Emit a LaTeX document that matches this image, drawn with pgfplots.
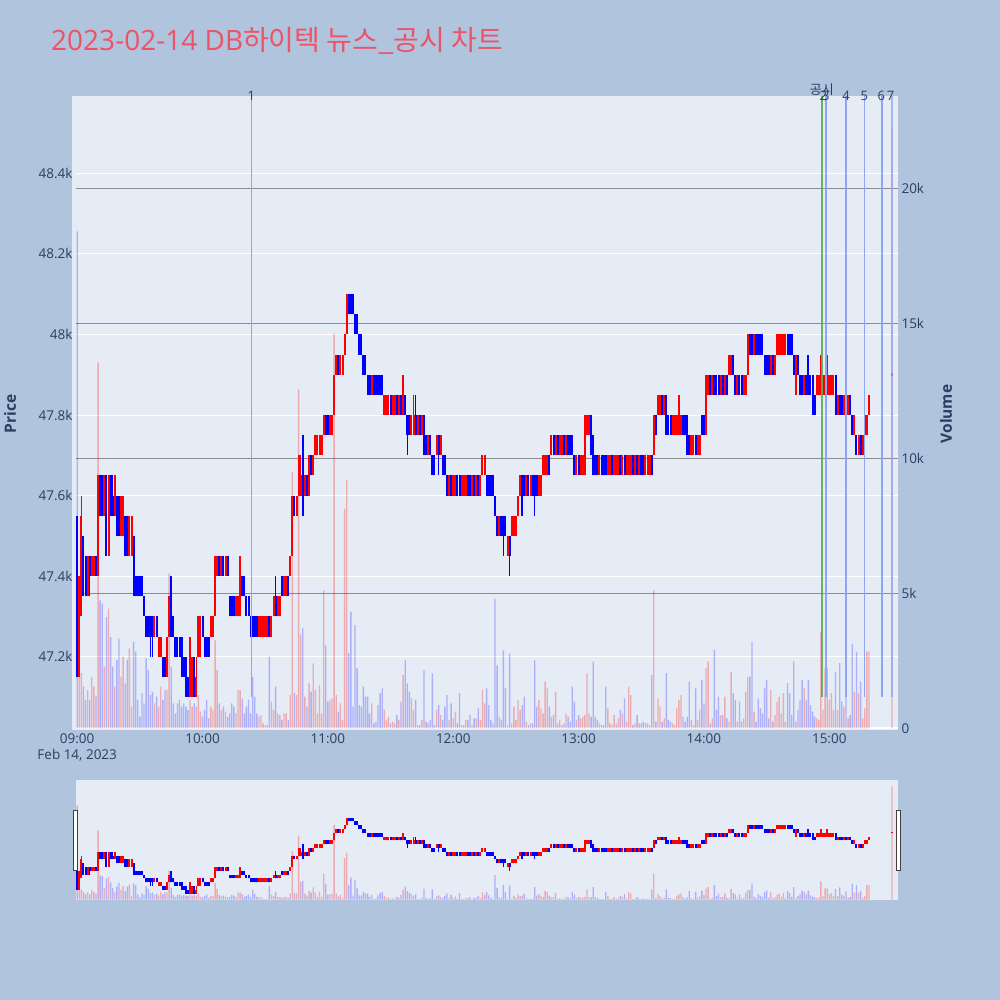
\documentclass[border=0pt]{standalone}
\usepackage{fontspec}
\setmainfont{Open Sans}
\newfontfamily\kr{Noto Sans CJK KR}
\usepackage{pgfplots}
\usepackage{pgfplotstable}
\pgfplotsset{compat=1.18}
\definecolor{pagebg}{HTML}{B0C4DE}
\definecolor{plotbg}{HTML}{E5ECF6}
\definecolor{tickc}{HTML}{2A3F5F}
\definecolor{titlec}{RGB}{238,82,102}
\definecolor{upc}{RGB}{255,0,0}
\definecolor{dnc}{RGB}{0,0,255}
\definecolor{vgrid}{RGB}{140,140,140}
\definecolor{nline}{RGB}{140,165,245}
\definecolor{gline}{RGB}{90,175,90}

\pgfplotstableread{
t o h l c v
0 47550 47550 47150 47150 18400
1 47150 47400 47150 47400 2890
2 47300 47600 47300 47550 2040
3 47500 47500 47350 47350 1540
4 47450 47450 47350 47350 1050
5 47350 47450 47350 47450 1420
6 47450 47450 47350 47400 1050
7 47400 47450 47400 47450 1910
8 47400 47450 47400 47450 1540
9 47450 47450 47400 47400 1200
10 47400 47650 47400 47650 13550
11 47650 47650 47550 47550 4740
12 47650 47650 47550 47550 4620
13 47550 47650 47550 47650 2280
14 47650 47650 47450 47450 4120
15 47450 47650 47450 47650 4430
16 47650 47650 47550 47550 3380
17 47600 47650 47550 47550 2280
18 47550 47650 47550 47650 1540
19 47600 47600 47500 47500 2530
20 47600 47600 47500 47500 3320
21 47500 47600 47500 47600 1910
22 47500 47600 47500 47600 2650
23 47550 47550 47450 47450 1660
24 47550 47550 47450 47450 2530
25 47450 47550 47450 47550 2960
26 47450 47550 47450 47550 800
27 47500 47500 47350 47350 3200
28 47400 47400 47350 47350 2840
29 47400 47400 47350 47350 1050
30 47400 47400 47350 47350 430
31 47400 47400 47350 47350 1300
32 47350 47350 47300 47300 920
33 47300 47300 47250 47250 2590
34 47300 47300 47250 47250 2160
35 47300 47300 47200 47250 1230
36 47300 47300 47200 47250 1360
37 47250 47300 47250 47300 920
38 47300 47300 47250 47250 1170
39 47200 47250 47200 47250 800
40 47200 47250 47200 47250 1540
41 47200 47200 47150 47150 1050
42 47200 47200 47150 47150 1420
43 47150 47250 47150 47250 1420
44 47250 47350 47250 47350 5730
45 47350 47400 47250 47250 2280
46 47300 47300 47250 47250 920
47 47250 47250 47200 47200 550
48 47250 47250 47200 47200 920
49 47250 47250 47200 47200 1050
50 47250 47250 47150 47150 800
51 47200 47200 47150 47150 920
52 47200 47200 47100 47100 800
53 47150 47150 47100 47100 680
54 47100 47250 47100 47250 1050
55 47100 47200 47100 47200 800
56 47200 47200 47100 47100 920
57 47100 47200 47100 47150 800
58 47200 47300 47200 47300 1230
59 47200 47300 47200 47300 620
60 47300 47300 47250 47250 430
61 47250 47250 47200 47200 680
62 47250 47250 47200 47200 1050
63 47250 47250 47200 47200 370
64 47250 47300 47250 47300 800
65 47250 47300 47250 47300 680
66 47300 47450 47300 47450 3260
67 47400 47450 47400 47450 2160
68 47450 47450 47400 47400 920
69 47400 47450 47400 47450 680
70 47450 47450 47400 47400 800
71 47400 47450 47400 47450 620
72 47450 47450 47400 47400 430
73 47350 47350 47300 47300 550
74 47350 47350 47300 47300 920
75 47350 47350 47300 47300 800
76 47300 47350 47300 47350 550
77 47300 47350 47300 47350 1420
78 47300 47450 47300 47450 1410
79 47400 47400 47350 47350 1100
80 47400 47400 47350 47350 550
81 47350 47350 47300 47300 800
82 47350 47350 47300 47300 1050
83 47300 47300 47250 47250 550
84 47300 47300 47250 47250 1900
85 47300 47300 47250 47250 1170
86 47300 47300 47250 47250 550
87 47250 47300 47250 47300 430
88 47250 47300 47250 47300 490
89 47250 47300 47250 47300 180
90 47250 47300 47250 47300 120
91 47250 47300 47250 47300 120
92 47300 47300 47250 47250 2650
93 47250 47300 47250 47300 990
94 47300 47350 47300 47350 680
95 47350 47400 47300 47300 1540
96 47300 47350 47300 47350 550
97 47300 47350 47300 47350 490
98 47400 47400 47350 47350 310
99 47350 47400 47350 47400 550
100 47350 47400 47350 47400 550
101 47400 47400 47350 47350 310
102 47400 47450 47400 47450 1230
103 47450 47600 47450 47600 9500
104 47600 47600 47550 47550 1300
105 47550 47600 47550 47600 1230
106 47600 47700 47600 47700 12540
107 47600 47700 47600 47650 3460
108 47750 47750 47550 47600 3700
109 47600 47650 47600 47650 1170
110 47650 47650 47600 47600 800
111 47600 47700 47600 47700 1660
112 47700 47700 47650 47650 1360
113 47650 47700 47650 47700 2400
114 47700 47750 47700 47750 1420
115 47700 47750 47700 47750 550
116 47700 47750 47700 47750 1600
117 47700 47750 47700 47750 550
118 47750 47800 47750 47800 5110
119 47800 47800 47750 47750 3070
120 47800 47800 47750 47750 990
121 47750 47800 47750 47800 1050
122 47750 47800 47750 47800 1110
123 47800 47900 47800 47900 14620
124 47900 47950 47900 47950 1230
125 47950 47950 47900 47900 620
126 47900 47950 47900 47950 920
127 47900 47950 47900 47950 310
128 47950 48000 47950 48000 8140
129 48000 48100 48000 48100 9190
130 48100 48100 48050 48050 2780
131 48100 48100 48050 48050 4320
132 48100 48100 48050 48050 800
133 48050 48050 48000 48000 3830
134 48050 48050 48000 48000 2220
135 48000 48000 47950 47950 860
136 48000 48000 47950 47950 800
137 47950 47950 47900 47900 1540
138 47950 47950 47900 47900 1170
139 47900 47900 47850 47850 1170
140 47900 47900 47850 47850 550
141 47850 47900 47850 47900 920
142 47900 47900 47850 47850 180
143 47900 47900 47850 47850 250
144 47900 47900 47850 47850 860
145 47900 47900 47850 47850 1300
146 47900 47900 47850 47850 1480
147 47800 47850 47800 47850 680
148 47800 47850 47800 47850 310
149 47800 47850 47800 47850 430
150 47850 47850 47800 47800 180
151 47800 47850 47800 47850 250
152 47800 47850 47800 47850 180
153 47850 47850 47800 47800 490
154 47800 47850 47800 47850 310
155 47850 47850 47800 47800 990
156 47800 47900 47800 47850 1970
157 47850 47850 47800 47800 2530
158 47800 47800 47700 47750 1660
159 47800 47800 47750 47750 1360
160 47750 47800 47750 47800 1110
161 47750 47850 47750 47800 680
162 47800 47850 47750 47750 1050
163 47750 47800 47750 47800 120
164 47800 47800 47750 47750 120
165 47750 47800 47750 47800 300
166 47800 47800 47700 47700 2150
167 47750 47750 47700 47700 250
168 47700 47750 47700 47750 180
169 47750 47750 47700 47700 300
170 47700 47700 47650 47650 2030
171 47700 47700 47650 47650 120
172 47700 47750 47700 47750 680
173 47750 47750 47650 47700 860
174 47700 47750 47700 47750 490
175 47700 47700 47650 47650 310
176 47700 47700 47650 47650 800
177 47650 47650 47600 47600 1230
178 47600 47650 47600 47650 310
179 47650 47650 47600 47600 920
180 47600 47650 47600 47650 370
181 47600 47650 47600 47650 620
182 47650 47650 47600 47600 180
183 47650 47650 47600 47600 1300
184 47600 47650 47600 47650 120
185 47600 47650 47600 47650 120
186 47600 47650 47600 47650 310
187 47650 47650 47600 47600 310
188 47650 47650 47600 47600 490
189 47600 47650 47600 47650 120
190 47650 47650 47600 47600 370
191 47600 47650 47600 47650 370
192 47650 47650 47600 47600 740
193 47600 47650 47600 47650 310
194 47650 47700 47650 47700 1420
195 47650 47700 47650 47700 920
196 47650 47650 47600 47600 1480
197 47650 47650 47600 47600 860
198 47650 47650 47600 47600 310
199 47650 47650 47600 47600 180
200 47600 47600 47550 47550 4800
201 47550 47550 47500 47500 2330
202 47500 47550 47500 47550 430
203 47550 47550 47500 47500 310
204 47550 47550 47450 47500 2890
205 47550 47550 47500 47500 1480
206 47450 47500 47450 47500 120
207 47500 47500 47400 47450 2770
208 47500 47550 47500 47550 180
209 47500 47550 47500 47550 800
210 47500 47550 47500 47550 310
211 47550 47600 47550 47600 1050
212 47600 47650 47600 47650 680
213 47650 47650 47550 47600 860
214 47650 47650 47600 47600 1170
215 47600 47650 47600 47650 250
216 47650 47650 47600 47600 120
217 47600 47650 47600 47650 180
218 47650 47650 47600 47600 180
219 47650 47650 47550 47600 2520
220 47650 47650 47600 47600 800
221 47600 47650 47600 47650 1050
222 47600 47650 47600 47650 740
223 47650 47700 47650 47700 550
224 47650 47700 47650 47700 1730
225 47650 47700 47650 47700 1480
226 47700 47700 47650 47650 800
227 47700 47750 47700 47750 430
228 47750 47750 47700 47700 490
229 47700 47750 47700 47750 1360
230 47750 47750 47700 47700 180
231 47700 47750 47700 47750 310
232 47700 47750 47700 47750 120
233 47750 47750 47700 47700 180
234 47700 47750 47700 47750 550
235 47750 47750 47700 47700 430
236 47750 47750 47700 47700 250
237 47750 47750 47700 47700 1540
238 47700 47700 47650 47650 990
239 47650 47700 47650 47700 310
240 47700 47700 47650 47650 490
241 47650 47700 47650 47700 370
242 47650 47700 47650 47700 430
243 47650 47800 47650 47800 490
244 47750 47800 47750 47800 2030
245 47750 47800 47750 47800 550
246 47800 47800 47700 47700 430
247 47750 47750 47650 47650 2470
248 47700 47700 47650 47650 430
249 47700 47700 47650 47650 310
250 47650 47700 47650 47700 180
251 47700 47700 47650 47650 120
252 47700 47700 47650 47650 120
253 47700 47700 47650 47650 1540
254 47650 47700 47650 47700 740
255 47650 47700 47650 47700 180
256 47700 47700 47650 47650 120
257 47650 47700 47650 47700 490
258 47650 47700 47650 47700 180
259 47650 47700 47650 47700 370
260 47700 47700 47650 47650 680
261 47650 47700 47650 47700 550
262 47700 47700 47650 47650 1110
263 47650 47700 47650 47700 250
264 47650 47700 47650 47700 1540
265 47650 47700 47650 47700 1230
266 47700 47700 47650 47650 120
267 47650 47700 47650 47700 180
268 47700 47700 47650 47650 490
269 47650 47700 47650 47700 180
270 47700 47700 47650 47650 180
271 47700 47700 47650 47650 250
272 47650 47700 47650 47700 180
273 47650 47700 47650 47700 180
274 47650 47700 47650 47700 120
275 47700 47700 47650 47650 1980
276 47700 47800 47700 47800 5120
277 47800 47800 47750 47750 250
278 47800 47850 47800 47850 1110
279 47800 47850 47800 47850 800
280 47850 47850 47800 47800 250
281 47800 47850 47800 47850 370
282 47850 47850 47750 47750 2040
283 47800 47800 47750 47750 310
284 47800 47800 47750 47750 250
285 47750 47800 47750 47800 180
286 47750 47800 47750 47800 120
287 47750 47800 47750 47800 740
288 47750 47850 47750 47800 1050
289 47750 47800 47750 47800 1230
290 47800 47800 47750 47750 430
291 47800 47800 47750 47750 250
292 47800 47800 47700 47750 430
293 47750 47750 47700 47700 1730
294 47700 47750 47700 47750 310
295 47700 47750 47700 47750 120
296 47750 47750 47700 47700 1480
297 47700 47750 47700 47750 310
298 47700 47750 47700 47750 680
299 47800 47800 47750 47750 1790
300 47800 47800 47750 47750 920
301 47750 47900 47750 47900 2220
302 47850 47900 47850 47900 2470
303 47900 47900 47850 47850 180
304 47850 47900 47850 47900 370
305 47900 47900 47850 47850 2900
306 47900 47900 47850 47850 680
307 47900 47900 47850 47850 1170
308 47850 47900 47850 47900 490
309 47900 47900 47850 47850 490
310 47850 47900 47850 47900 1170
311 47900 47900 47850 47850 370
312 47900 47950 47900 47950 250
313 47900 47950 47900 47950 2100
314 47950 47950 47900 47900 1300
315 47900 47900 47850 47850 1050
316 47850 47900 47850 47900 250
317 47900 47900 47850 47850 990
318 47900 47900 47850 47850 250
319 47850 47900 47850 47900 370
320 47850 47900 47850 47900 1360
321 47900 48000 47900 48000 1910
322 48000 48000 47950 47950 1910
323 48000 48000 47950 47950 3200
324 47950 48000 47950 48000 620
325 48000 48000 47950 47950 250
326 48000 48000 47950 47950 1110
327 48000 48000 47950 47950 740
328 48000 48000 47950 47950 550
329 47950 47950 47900 47900 1480
330 47950 47950 47900 47900 1790
331 47950 47950 47900 47900 370
332 47900 47950 47900 47950 1420
333 47950 47950 47900 47900 250
334 47900 47950 47900 47950 490
335 47950 48000 47950 48000 990
336 47950 48000 47950 48000 1170
337 47950 48000 47950 48000 550
338 47950 48000 47950 48000 1300
339 47950 48000 47950 48000 250
340 48000 48000 47950 47950 1670
341 48000 48000 47950 47950 1300
342 48000 48000 47950 47950 490
343 47950 47950 47900 47900 2470
344 47850 47950 47850 47950 250
345 47950 47950 47900 47900 680
346 47900 47900 47850 47850 1050
347 47900 47900 47850 47850 1790
348 47850 47900 47850 47900 1480
349 47900 47900 47850 47850 1050
350 47950 47950 47850 47850 1790
351 47900 47900 47850 47850 860
352 47900 47900 47800 47800 620
353 47850 47850 47800 47800 430
354 47850 47900 47850 47900 370
355 47850 47900 47850 47900 310
356 47850 47950 47850 47900 3570
357 47850 47900 47850 47900 680
358 47850 47900 47850 47900 2220
359 47850 47950 47850 47900 2220
360 47850 47900 47850 47900 1050
361 47850 47900 47850 47900 1300
362 47850 47900 47850 47900 680
363 47900 47900 47800 47800 2100
364 47800 47850 47800 47850 680
365 47850 47850 47800 47800 2410
366 47850 47850 47800 47800 990
367 47800 47850 47800 47850 800
368 47850 47850 47800 47800 1600
369 47800 47850 47800 47850 370
370 47850 47850 47800 47800 490
371 47800 47800 47750 47750 3140
372 47750 47800 47750 47800 1360
373 47750 47750 47700 47700 2840
374 47700 47750 47700 47750 1300
375 47750 47750 47700 47700 1730
376 47700 47750 47700 47750 370
377 47750 47800 47750 47800 740
378 47750 47800 47750 47800 2840
379 47800 47850 47800 47850 2840
390 47896 47904 47896 47904 22150
}\data

\pgfplotsset{
  upf/.style={restrict expr to domain={\thisrow{c}-\thisrow{o}}{0:1000000}},
  dnf/.style={restrict expr to domain={\thisrow{o}-\thisrow{c}}{1:1000000}},
  base/.style={scale only axis, width=822pt, xmin=-0.57, xmax=392.9, anchor=south west, scaled ticks=false},
  pr/.style={ymin=47018, ymax=48592},
  vo/.style={ymin=-63, ymax=23419},
}
\newcommand\candles{%
  \addplot[upf, color=upc, line width=1.5pt, mark=none, quiver={u value=0, v={\thisrow{h}-\thisrow{l}}}] table[x=t,y=l]{\data};
  \addplot[upf, color=upc, line width=2pt, mark=none, quiver={u value=0, v={\thisrow{c}-\thisrow{o}}}] table[x=t,y=o]{\data};
  \addplot[dnf, color=dnc, line width=1.5pt, mark=none, quiver={u value=0, v={\thisrow{h}-\thisrow{l}}}] table[x=t,y=l]{\data};
  \addplot[dnf, color=dnc, line width=2pt, mark=none, quiver={u value=0, v={\thisrow{o}-\thisrow{c}}}] table[x=t,y=c]{\data};
}
\newcommand\vols{%
  \addplot[upf, ybar, bar width=0.65, bar shift=0pt, draw=none, fill=upc, fill opacity=0.28] table[x=t,y=v]{\data};
  \addplot[dnf, ybar, bar width=0.65, bar shift=0pt, draw=none, fill=dnc, fill opacity=0.25] table[x=t,y=v]{\data};
}
\newcommand\tfont{\fontsize{13.5}{16}\selectfont}

\begin{document}
\begin{tikzpicture}[x=1pt,y=1pt]
\fill[pagebg] (0,0) rectangle (1000,1000);
\fill[plotbg] (72,270) rectangle (76,904);
\fill[plotbg] (76,100) rectangle (898,220);

% price background axis
\begin{axis}[base, pr, at={(76pt,270pt)}, height=634pt,
  axis background/.style={fill=plotbg},
  axis line style={draw=none}, tick style={draw=none},
  ytick={47200,47400,47600,47800,48000,48200,48400},
  yticklabels={47.2k,47.4k,47.6k,47.8k,48k,48.2k,48.4k},
  ymajorgrids, major grid style={white, line width=1pt},
  xtick={0,60,120,180,240,300,360},
  xticklabels={{09:00\\Feb 14, 2023},10:00,11:00,12:00,13:00,14:00,15:00},
  xticklabel style={align=center, font=\tfont, text=tickc},
  yticklabel style={font=\tfont, text=tickc},
]
\addplot[draw=none] coordinates {(0,47500)};
\end{axis}

% volume axis
\begin{axis}[base, vo, at={(76pt,270pt)}, height=634pt,
  axis y line*=right, axis x line=none,
  axis line style={draw=none}, tick style={draw=none},
  xtick=\empty,
  ytick={5000,10000,15000,20000},
  yticklabels={5k,10k,15k,20k},
  extra y ticks={0}, extra y tick labels={0},
  extra y tick style={major grid style={white, line width=1.6pt}},
  ymajorgrids, major grid style={vgrid, line width=1.1pt},
  yticklabel style={font=\tfont, text=tickc},
]
\vols
\end{axis}

% candles
\begin{axis}[base, pr, at={(76pt,270pt)}, height=634pt, hide axis, clip=false]
\candles
\addplot[nline, line width=1.5pt] coordinates {(83.4,47100) (83.4,48592)};
\addplot[gline, line width=1.2pt, opacity=0.9] coordinates {(356.1,47100) (356.1,48592)};
\addplot[gline, line width=1.2pt, opacity=0.9] coordinates {(356.7,47100) (356.7,48592)};
\addplot[nline, line width=1.5pt] coordinates {(358.4,47100) (358.4,48592)};
\addplot[nline, line width=1.5pt] coordinates {(368.1,47100) (368.1,48592)};
\addplot[nline, line width=1.5pt] coordinates {(376.8,47100) (376.8,48592)};
\addplot[nline, line width=1.5pt] coordinates {(385.3,47100) (385.3,48592)};
\addplot[nline, line width=1.5pt, opacity=0.75] coordinates {(390.0,47100) (390.0,48592)};
\begin{scope}[every node/.style={font=\fontsize{13}{15}\selectfont, text=tickc, inner sep=0pt}]
\node at (axis cs:83.4,48592) {1};
\node[yshift=6pt] at (axis cs:356.4,48592) {\kr 공시};
\node at (axis cs:357.1,48592) {2};
\node at (axis cs:358.4,48592) {3};
\node at (axis cs:368.1,48592) {4};
\node at (axis cs:376.8,48592) {5};
\node at (axis cs:384.9,48592) {6};
\node at (axis cs:389.3,48592) {7};
\end{scope}
\end{axis}

% range slider
\begin{axis}[base, vo, at={(76pt,100pt)}, height=120pt, hide axis]
\vols
\end{axis}
\begin{axis}[base, pr, at={(76pt,100pt)}, height=120pt, hide axis]
\candles
\end{axis}
\draw[fill=white, draw=black!75, line width=0.9pt] (73.5,130) rectangle (77.5,190);
\draw[fill=white, draw=black!75, line width=0.9pt] (896,130) rectangle (900,190);

% titles
\node[anchor=base west, text=titlec, font=\fontsize{28}{34}\selectfont, inner sep=0pt] at (51,949) {2023-02-14 DB{\kr 하이텍 뉴스\_공시 차트}};
\node[rotate=90, font=\bfseries\fontsize{15.5}{18}\selectfont, text=tickc] at (10,586) {Price};
\node[rotate=90, font=\bfseries\fontsize{15.5}{18}\selectfont, text=tickc] at (946,586) {Volume};

\pgfresetboundingbox
\path (0,0) rectangle (1000,1000);
\end{tikzpicture}
\end{document}
